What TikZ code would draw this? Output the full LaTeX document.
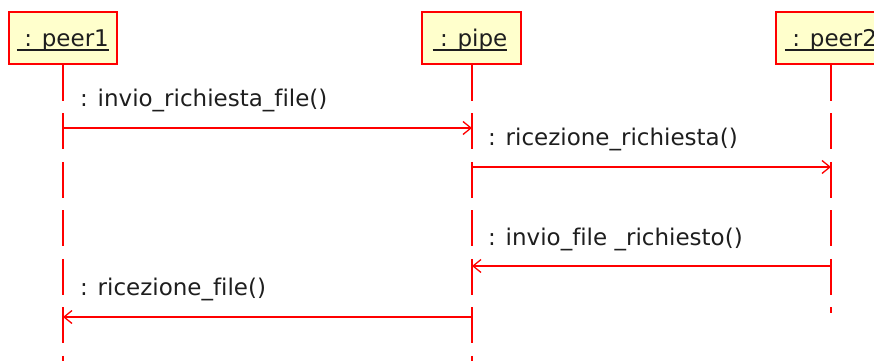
\documentclass[tikz,border=0pt]{standalone}
\usepackage{fontspec}
\setmainfont{DejaVu Sans}[Ligatures=NoCommon]
\usetikzlibrary{arrows.meta}
\definecolor{umlred}{RGB}{255,0,0}
\definecolor{umlfill}{RGB}{255,255,204}
\definecolor{umltext}{RGB}{30,30,30}
\tikzset{
  objbox/.style={draw=umlred, fill=umlfill, line width=1.6pt, minimum height=52pt, inner sep=0pt},
  objname/.style={font=\fontsize{23pt}{27pt}\selectfont, text=umltext, inner sep=0pt, anchor=base},
  nameline/.style={draw=umltext, line width=1.5pt},
  lifeline/.style={draw=umlred, line width=1.5pt, dash pattern=on 36pt off 12.5pt},
  msg/.style={draw=umlred, line width=1.3pt, -{Straight Barb[length=8pt,width=13pt]}},
  msglabel/.style={font=\fontsize{23pt}{27pt}\selectfont, text=umltext, inner sep=0pt, anchor=base west},
}
\begin{document}
\begin{tikzpicture}[x=1pt,y=-1pt]
\useasboundingbox (0,0) rectangle (874,361);
\clip (0,0) rectangle (874,361);

% object boxes
\node[objbox, minimum width=108pt] (peer1) at (63,38) {};
\node[objbox, minimum width=99pt]  (pipe)  at (471.5,38) {};
\node[objbox, minimum width=110pt] (peer2) at (831,38) {};

% object names (underlined)
\node[objname] (n1) at (63,47)    {\ : peer1};
\node[objname] (n2) at (470,47)   {\ : pipe};
\node[objname] (n3) at (831,47)   {\ : peer2};
\foreach \n in {n1,n2,n3}
  \draw[nameline] ([yshift=-3pt]\n.base west) -- ([yshift=-3pt]\n.base east);

% lifelines
\coordinate (end1) at (63,361);
\coordinate (end2) at (472,361);
\coordinate (end3) at (831,313);
\draw[lifeline] (peer1.south) -- (end1);
\draw[lifeline] ([xshift=0.5pt]pipe.south) -- (end2);
\draw[lifeline] (peer2.south) -- (end3);

% message anchor points on the lifelines
\coordinate (m1a) at (63,128);  \coordinate (m1b) at (472,128);
\coordinate (m2a) at (472,167); \coordinate (m2b) at (831,167);
\coordinate (m3a) at (831,266); \coordinate (m3b) at (472,266);
\coordinate (m4a) at (472,317); \coordinate (m4b) at (63,317);

% messages
\draw[msg] (m1a) -- (m1b);
\draw[msg] (m2a) -- (m2b);
\draw[msg] (m3a) -- (m3b);
\draw[msg] (m4a) -- (m4b);

% message labels
\node[msglabel] (l1) at (80,106)  {: invio\_richiesta\_file()};
\node[msglabel] (l2) at (488,145) {: ricezione\_richiesta()};
\node[msglabel] (l3) at (488,245) {: invio\_file \_richiesto()};
\node[msglabel] (l4) at (80,295)  {: ricezione\_file()};
\end{tikzpicture}
\end{document}
